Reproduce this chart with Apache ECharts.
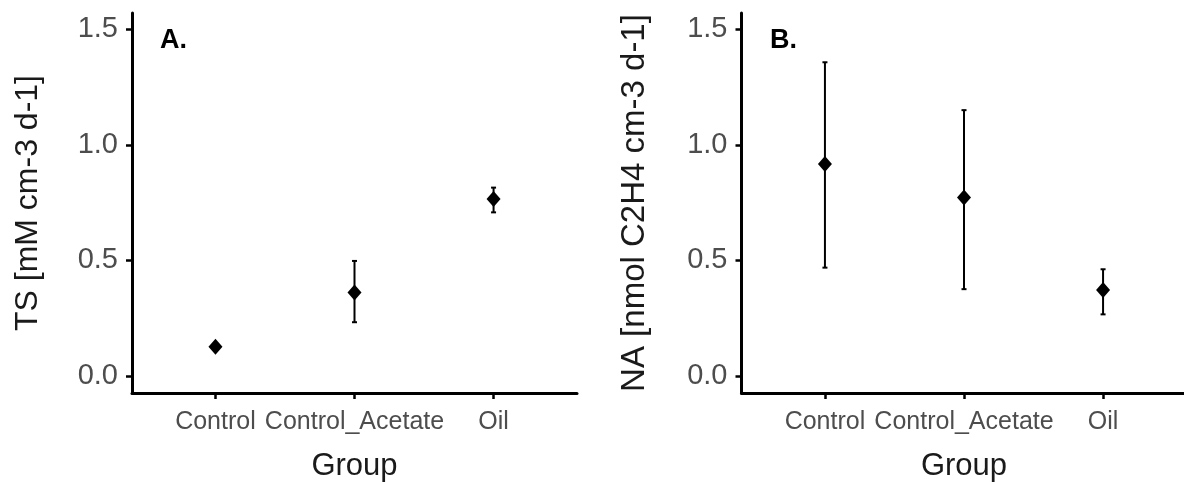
<!DOCTYPE html>
<html>
<head>
<meta charset="utf-8">
<script src="https://cdn.jsdelivr.net/npm/echarts@6/dist/echarts.min.js"></script>
<style>
  html, body { margin: 0; padding: 0; background: #fff; }
  #chart { width: 1184px; height: 482px; }
</style>
</head>
<body>
<div id="chart"></div>
<script>
// Groups along the x axis (positions 0, 1, 2)
const groups = ['Control', 'Control_Acetate', 'Oil'];
const groupPos = [0, 1, 2];

// Panel A: TS [mM cm-3 d-1] — mean with lower / upper error limits
const tsMean = [0.127, 0.362, 0.766];
const tsLow  = [0.116, 0.233, 0.708];
const tsHigh = [0.138, 0.498, 0.815];

// Panel B: NA [nmol C2H4 cm-3 d-1] — mean with lower / upper error limits
const naMean = [0.917, 0.772, 0.372];
const naLow  = [0.469, 0.376, 0.267];
const naHigh = [1.357, 1.150, 0.462];

// Y tick labels shared by both panels
const yTicks = [0, 0.5, 1.0, 1.5];

const tickColor = '#4d4d4d';
const titleColor = '#1a1a1a';
const font = 'Liberation Sans, Arial, sans-serif';

function xAxisFor(gridIndex) {
  return {
    type: 'value', gridIndex: gridIndex, min: -0.6, max: 2.6,
    name: 'Group', nameLocation: 'middle', nameGap: 58,
    nameTextStyle: { fontSize: 31, color: titleColor, fontFamily: font },
    splitLine: { show: false },
    axisLine: { show: true, onZero: false, lineStyle: { color: '#000', width: 3 } },
    axisTick: { show: true, length: 6, customValues: groupPos, lineStyle: { color: '#000', width: 2.5 } },
    axisLabel: {
      customValues: groupPos, margin: 17, fontSize: 25, color: tickColor, fontFamily: font,
      formatter: v => groups[Math.round(v)]
    }
  };
}

function yAxisFor(gridIndex, title, gap, titleSize) {
  return {
    type: 'value', gridIndex: gridIndex, min: -0.073, max: 1.57,
    name: title, nameLocation: 'middle', nameGap: gap, nameRotate: 90,
    nameTextStyle: { fontSize: titleSize, color: titleColor, fontFamily: font },
    splitLine: { show: false },
    axisLine: { show: true, onZero: false, lineStyle: { color: '#000', width: 3 } },
    axisTick: { show: true, length: 6, customValues: yTicks, lineStyle: { color: '#000', width: 2.5 } },
    axisLabel: {
      customValues: yTicks, margin: 14, fontSize: 29, color: tickColor, fontFamily: font,
      formatter: v => v.toFixed(1)
    }
  };
}

function errorBars(idx, low, high) {
  return {
    type: 'custom', xAxisIndex: idx, yAxisIndex: idx, silent: true, z: 2,
    data: groupPos.map((x, i) => [x, low[i], high[i]]),
    renderItem: function (params, api) {
      const top = api.coord([api.value(0), api.value(2)]);
      const bot = api.coord([api.value(0), api.value(1)]);
      const cap = 2.5;
      const style = { stroke: '#000', lineWidth: 2 };
      return {
        type: 'group',
        children: [
          { type: 'line', shape: { x1: top[0], y1: top[1], x2: bot[0], y2: bot[1] }, style: style },
          { type: 'line', shape: { x1: top[0] - cap, y1: top[1], x2: top[0] + cap, y2: top[1] }, style: style },
          { type: 'line', shape: { x1: bot[0] - cap, y1: bot[1], x2: bot[0] + cap, y2: bot[1] }, style: style }
        ]
      };
    }
  };
}

function points(idx, mean) {
  return {
    type: 'scatter', xAxisIndex: idx, yAxisIndex: idx, z: 3, silent: true,
    symbol: 'diamond', symbolSize: [14, 16],
    itemStyle: { color: '#000', opacity: 1 },
    data: groupPos.map((x, i) => [x, mean[i]])
  };
}

const chart = echarts.init(document.getElementById('chart'), null, { renderer: 'canvas' });
chart.setOption({
  backgroundColor: '#fff',
  animation: false,
  title: [
    { text: 'A.', left: 160, top: 27, padding: 0, textStyle: { fontSize: 27, fontWeight: 'bold', color: '#000', fontFamily: font } },
    { text: 'B.', left: 770, top: 27, padding: 0, textStyle: { fontSize: 27, fontWeight: 'bold', color: '#000', fontFamily: font } }
  ],
  grid: [
    { left: 132, top: 13, width: 445, height: 380, outerBoundsMode: 'none', containLabel: false },
    { left: 741.5, top: 13, width: 445, height: 380, outerBoundsMode: 'none', containLabel: false }
  ],
  xAxis: [xAxisFor(0), xAxisFor(1)],
  yAxis: [
    yAxisFor(0, 'TS [mM cm-3 d-1]', 88, 32),
    yAxisFor(1, 'NA [nmol C2H4 cm-3 d-1]', 90, 33)
  ],
  series: [
    errorBars(0, tsLow, tsHigh), points(0, tsMean),
    errorBars(1, naLow, naHigh), points(1, naMean)
  ]
});
</script>
</body>
</html>
